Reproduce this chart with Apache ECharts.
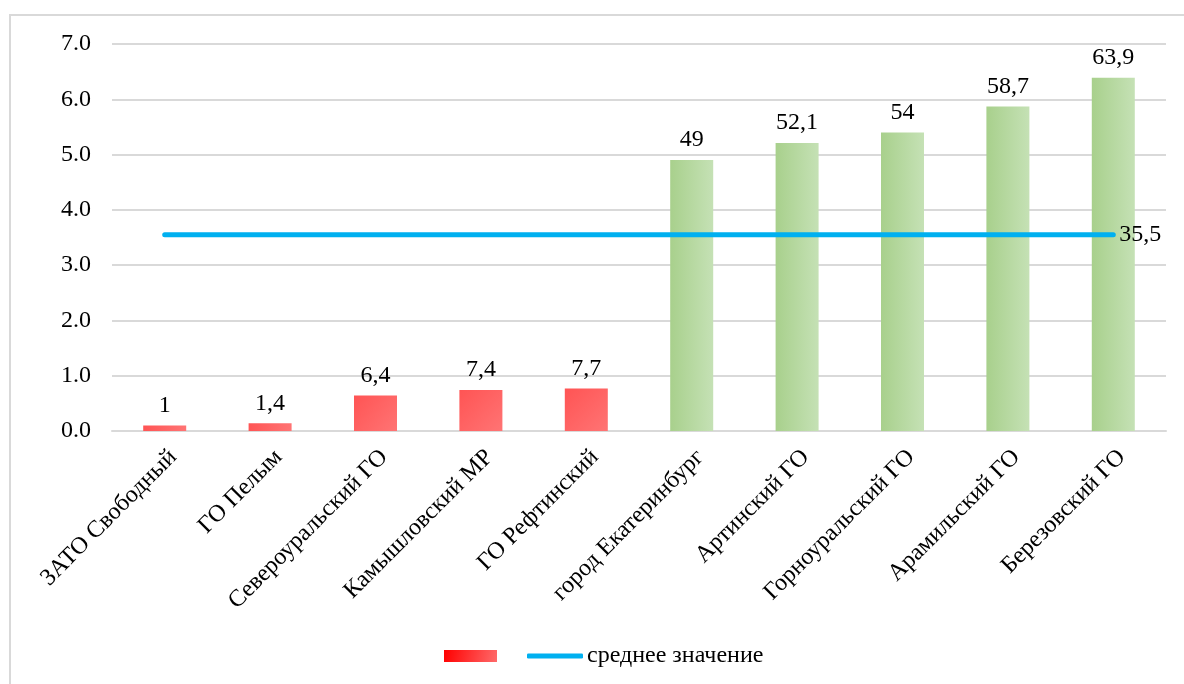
<!DOCTYPE html>
<html>
<head>
<meta charset="utf-8">
<script src="https://cdn.jsdelivr.net/npm/echarts@6/dist/echarts.min.js"></script>
<style>
html,body{margin:0;padding:0;background:#fff;}
#c{width:1184px;height:684px;}
</style>
</head>
<body>
<div id="c"></div>
<script>
const categories = ['ЗАТО Свободный','ГО Пелым','Североуральский ГО','Камышловский МР','ГО Рефтинский','город Екатеринбург','Артинский ГО','Горноуральский ГО','Арамильский ГО','Березовский ГО'];
// bar heights on the axis (axis scale) and the printed labels
const barHeights = [0.10, 0.14, 0.64, 0.74, 0.77, 4.90, 5.21, 5.40, 5.87, 6.39];
const barLabels = ['1','1,4','6,4','7,4','7,7','49','52,1','54','58,7','63,9'];
const isHigh = [false,false,false,false,false,true,true,true,true,true];
const averageHeight = 3.55;
const averageLabel = '35,5';
const averageName = 'среднее значение';

const FONT = 'Liberation Serif';
const FS = 24;
const red = new echarts.graphic.LinearGradient(0,0,1,1,[{offset:0,color:'#ff5454'},{offset:1,color:'#ff7474'}]);
const green = new echarts.graphic.LinearGradient(0,0,1,0,[{offset:0,color:'#a8d08c'},{offset:1,color:'#c5e1b5'}]);
const legendRed = new echarts.graphic.LinearGradient(0,0,1,1,[{offset:0,color:'#ff0000'},{offset:1,color:'#ff6a6a'}]);

const chart = echarts.init(document.getElementById('c'));
chart.setOption({
  animation:false,
  textStyle:{fontFamily:FONT},
  graphic:[{type:'rect',shape:{x:10,y:15,width:1200,height:700},style:{fill:'none',stroke:'#d9d9d9',lineWidth:2},silent:true}],
  grid:{left:112,right:18,top:44,bottom:253},
  legend:[
    {data:[{name:' ',itemStyle:{color:legendRed}}],left:444,top:644,padding:0,itemWidth:53,itemHeight:12,icon:'rect',
     textStyle:{fontFamily:FONT,fontSize:FS,color:'#000'},itemGap:0,selectedMode:false},
    {data:[{name:averageName}],left:527,top:644,padding:0,itemWidth:56,itemHeight:5,icon:'roundRect',
     textStyle:{fontFamily:FONT,fontSize:FS,color:'#000',padding:[0,0,0,-1]},selectedMode:false}
  ],
  xAxis:{type:'category',data:categories,
    axisLine:{lineStyle:{color:'#d9d9d9',width:2}},axisTick:{show:false},
    axisLabel:{rotate:45,interval:0,color:'#000',fontFamily:FONT,fontSize:FS,margin:14,verticalAlign:'top'}},
  yAxis:{type:'value',min:0,max:7,interval:1,
    axisLine:{show:false},axisTick:{show:false},
    splitLine:{lineStyle:{color:'#d9d9d9',width:2}},
    axisLabel:{color:'#000',fontFamily:FONT,fontSize:FS,margin:21,formatter:v=>v.toFixed(1)}},
  series:[
    {name:' ',type:'bar',barWidth:43,
     itemStyle:{color:red},
     data:barHeights.map((v,i)=>({value:v,itemStyle:{color:isHigh[i]?green:red},
       label:{show:true,position:'top',distance:8,formatter:barLabels[i],color:'#000',fontFamily:FONT,fontSize:FS}}))},
    {name:averageName,type:'line',symbol:'circle',symbolSize:0.1,showSymbol:true,
     lineStyle:{color:'#00b0f0',width:5,cap:'round'},itemStyle:{color:'#00b0f0'},
     data:categories.map((c,i)=>i===categories.length-1?{value:averageHeight,label:{show:true,position:'right',distance:6,formatter:averageLabel,color:'#000',fontFamily:FONT,fontSize:FS}}:averageHeight)}
  ]
});
</script>
</body>
</html>
